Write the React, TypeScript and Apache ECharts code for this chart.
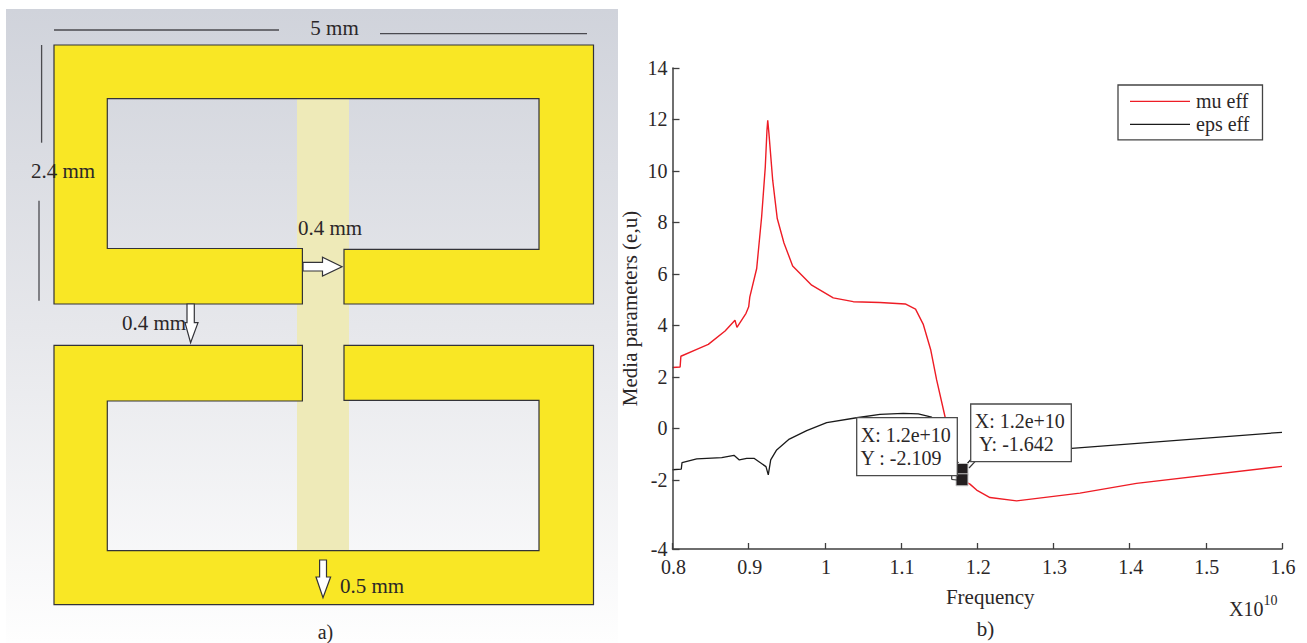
import React, { useEffect, useRef } from "react";
import * as echarts from "echarts";

const FONT = '"Liberation Serif", serif';
const INK = "#2b2728";

const muFreq = [0.8, 0.81, 0.811, 0.8318, 0.847, 0.869, 0.882, 0.8846, 0.8965, 0.9, 0.9015, 0.9105, 0.917, 0.9218, 0.924, 0.925, 0.9266, 0.9315, 0.9375, 0.9463, 0.9577, 0.9827, 1.011, 1.0373, 1.0723, 1.1055, 1.119, 1.129, 1.139, 1.1467, 1.158, 1.18, 1.1904, 1.1992, 1.2167, 1.2517, 1.3348, 1.409, 1.6];
const muEff = [2.36, 2.38, 2.8, 3.07, 3.26, 3.78, 4.2, 3.92, 4.47, 4.72, 5.11, 6.21, 8.22, 10.16, 11.58, 11.97, 11.45, 9.64, 8.15, 7.2, 6.31, 5.56, 5.07, 4.92, 4.89, 4.83, 4.63, 4.05, 3.04, 1.88, 0.41, -2.0, -2.17, -2.4, -2.69, -2.82, -2.52, -2.14, -1.48];
const epsFreq = [0.8, 0.8115, 0.8125, 0.8318, 0.8646, 0.8807, 0.8877, 0.8974, 0.9074, 0.9227, 0.9257, 0.9289, 0.9367, 0.9533, 0.9761, 1.0024, 1.0417, 1.0723, 1.1029, 1.1226, 1.1402, 1.18, 1.192, 1.3239, 1.6];
const epsEff = [-1.61, -1.59, -1.33, -1.19, -1.14, -1.05, -1.23, -1.17, -1.17, -1.49, -1.81, -1.23, -0.84, -0.42, -0.09, 0.22, 0.41, 0.54, 0.58, 0.56, 0.43, -1.6, -1.2, -0.78, -0.155];
const markerFreq = [1.18, 1.18];
const markerValue = [-1.6, -2.0];
const yTicks = [-4.69, -2, 0, 2, 4, 6, 8, 10, 12, 14];
const xTicks = [0.8, 0.9, 1, 1.1, 1.2, 1.3, 1.4, 1.5, 1.6];

const zip = (a: number[], b: number[]) => a.map((v, i) => [v, b[i]]);

const txt = (text: string, x: number, y: number, align = "left", fontSize = 20) => ({
  type: "text",
  x,
  y,
  z: 50,
  style: { text, fill: INK, font: `${fontSize}px ${FONT}`, align, verticalAlign: "middle" },
});

const poly = (points: number[][], fill: string, stroke: string, lineWidth = 1.2) => ({
  type: "polygon",
  z: 20,
  shape: { points },
  style: { fill, stroke, lineWidth },
});

const seg = (x1: number, y1: number, x2: number, y2: number, stroke = "#4a4a4f", lineWidth = 1.3) => ({
  type: "line",
  z: 30,
  shape: { x1, y1, x2, y2 },
  style: { stroke, lineWidth },
});

const tipBox = (x: number, y: number, w: number, h: number, l1: string, l2: string, l2x: number) => [
  { type: "rect", z: 40, shape: { x, y, width: w, height: h }, style: { fill: "#fff", stroke: "#4a4a4a", lineWidth: 1.3 } },
  { ...txt(l1, x + 4, y + 17), z: 41 },
  { ...txt(l2, l2x, y + 40), z: 41 },
];

const YELLOW = "#f9e725";
const EDGE = "#333338";

const diagram = [
  {
    type: "rect",
    z: 1,
    shape: { x: 6, y: 9, width: 612, height: 634 },
    style: {
      fill: new echarts.graphic.LinearGradient(0, 0, 0, 1, [
        { offset: 0, color: "#d0d3db" },
        { offset: 0.5, color: "#e6e7eb" },
        { offset: 1, color: "#fefefe" },
      ]),
    },
  },
  { type: "rect", z: 10, shape: { x: 297, y: 98.7, width: 52, height: 452 }, style: { fill: "#eeeab8" } },
  poly([[54, 45], [593.5, 45], [593.5, 304], [344, 304], [344, 249.3], [539, 249.3], [539, 98.7], [107.3, 98.7], [107.3, 248.5], [302.4, 248.5], [302.4, 304], [54, 304]], YELLOW, EDGE),
  poly([[54, 345.3], [302.4, 345.3], [302.4, 401], [107.3, 401], [107.3, 550.7], [539, 550.7], [539, 400.3], [344, 400.3], [344, 345.3], [593.5, 345.3], [593.5, 604.7], [54, 604.7]], YELLOW, EDGE),
  seg(54, 30, 279, 30),
  seg(380, 33.7, 587, 33.7),
  seg(41.6, 45, 41.6, 142.7),
  seg(39, 200.7, 39, 300.7),
  poly([[303, 262.3], [322.5, 262.3], [322.5, 257.3], [342, 266.7], [322.5, 276], [322.5, 271], [303, 271]], "#fff", EDGE),
  poly([[187, 304], [194.3, 304], [194.3, 322.7], [198, 322.7], [190.6, 342.7], [185, 322.7], [187, 322.7]], "#fff", EDGE),
  poly([[319.6, 560], [326.5, 560], [326.5, 577], [330.6, 577], [323, 597.7], [316, 577], [319.6, 577]], "#fff", EDGE),
  txt("5 mm", 334.5, 28, "center", 21),
  txt("2.4 mm", 31, 171, "left", 21),
  txt("0.4 mm", 298, 228, "left", 21),
  txt("0.4 mm", 122, 322.5, "left", 21),
  txt("0.5 mm", 340, 586, "left", 21),
  txt("a)", 325.5, 632, "center", 20),
];

const annotations = [
  seg(951.7, 475.7, 951.7, 479.5, "#333", 1.2),
  seg(951.7, 479.5, 957, 480, "#333", 1.2),
  seg(969, 468, 975, 461.7, "#333", 1.2),
  ...tipBox(856.7, 417.7, 100.6, 58, "X: 1.2e+10", "Y : -2.109", 860.5),
  ...tipBox(970.7, 404, 100.6, 57.7, "X: 1.2e+10", "Y: -1.642", 979),
  {
    type: "text",
    x: 1229,
    y: 587,
    z: 50,
    style: {
      text: "{b|X10}{s|10}",
      rich: {
        b: { font: `20px ${FONT}`, fill: INK, padding: [12, 0, 0, 0] },
        s: { font: `14px ${FONT}`, fill: INK, padding: [0, 0, 6, 0] },
      },
    },
  },
  txt("b)", 985.5, 629, "center", 21),
];

export default function App() {
  const ref = useRef<HTMLDivElement>(null);
  useEffect(() => {
    const chart = echarts.init(ref.current!, null, { renderer: "svg" });
    chart.setOption({
      animation: false,
      backgroundColor: "#fff",
      textStyle: { fontFamily: FONT },
      grid: { left: 672.5, top: 68, width: 609.5, height: 481, containLabel: false },
      legend: {
        left: 1118,
        top: 85,
        orient: "vertical",
        align: "left",
        itemWidth: 60,
        itemHeight: 14,
        itemGap: 3,
        padding: [6.4, 13, 5.4, 12],
        borderColor: "#444",
        borderWidth: 1.3,
        icon: "path://M0 0H60V1.3H0Z",
        data: ["mu eff", "eps eff"],
        textStyle: { fontFamily: FONT, fontSize: 20, color: INK, padding: [0, 0, 0, 1] },
      },
      xAxis: {
        type: "value",
        min: 0.8,
        max: 1.6,
        interval: 0.1,
        splitLine: { show: false },
        axisLine: { onZero: false, lineStyle: { color: "#3f3f3f", width: 1.5 } },
        axisTick: { inside: true, length: 6, lineStyle: { color: "#3f3f3f", width: 1.3 }, customValues: xTicks },
        axisLabel: { color: INK, fontSize: 20, fontFamily: FONT, margin: 8, padding: [0, 0, 0, 2], customValues: xTicks, formatter: (v: number) => String(v) },
        name: "Frequency",
        nameLocation: "middle",
        nameGap: 37,
        nameTextStyle: { color: INK, fontSize: 21, fontFamily: FONT, padding: [0, 0, 0, 26] },
      },
      yAxis: {
        type: "value",
        z: 60,
        min: -4.69,
        max: 14,
        splitLine: { show: false },
        axisLine: { show: true, onZero: false, lineStyle: { color: "#3f3f3f", width: 1.5 } },
        axisTick: { show: true, inside: true, length: 7, lineStyle: { color: "#3f3f3f", width: 1.3 }, customValues: yTicks },
        axisLabel: {
          color: INK,
          fontSize: 20,
          fontFamily: FONT,
          margin: 5,
          customValues: yTicks,
          formatter: (v: number) => (v < -4 ? "-4" : String(v)),
        },
        name: "Media parameters (e,u)",
        nameLocation: "middle",
        nameGap: 32,
        nameTextStyle: { color: INK, fontSize: 21, fontFamily: FONT },
      },
      series: [
        { name: "mu eff", type: "line", data: zip(muFreq, muEff), showSymbol: false, lineStyle: { color: "#ee1c25", width: 1.4 }, itemStyle: { color: "#ee1c25" }, silent: true },
        { name: "eps eff", type: "line", data: zip(epsFreq, epsEff), showSymbol: false, lineStyle: { color: "#1a1a1a", width: 1.3 }, itemStyle: { color: "#1a1a1a" }, silent: true },
        {
          name: "markers",
          type: "scatter",
          z: 5,
          data: zip(markerFreq, markerValue),
          symbol: "rect",
          symbolSize: 12,
          itemStyle: { color: "#231f20", borderColor: "#c8c8c8", borderWidth: 1, opacity: 1 },
          silent: true,
        },
      ],
      graphic: { elements: [...diagram, ...annotations] },
    });
    return () => chart.dispose();
  }, []);
  return <div ref={ref} style={{ position: "fixed", left: 0, top: 0, width: 1307, height: 643 }} />;
}
